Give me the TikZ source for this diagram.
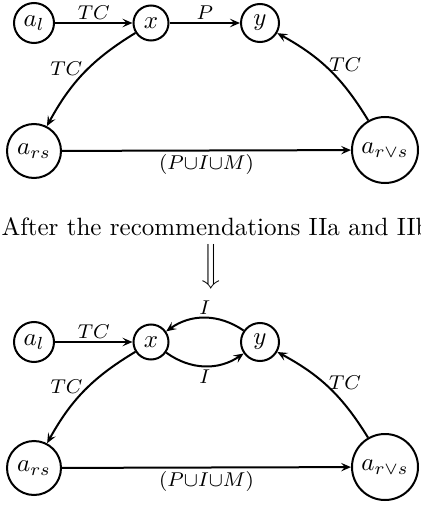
\documentclass[tikz,border=0pt]{standalone}
\usetikzlibrary{arrows.meta}
\begin{document}
\begin{tikzpicture}[x=0.4pt,y=-0.4pt,
  st/.style={circle,draw,thick,inner sep=0pt},
  ar/.style={thick,-{Stealth[length=4pt,width=3.4pt,inset=1.6pt]}},
  lb/.style={font=\footnotesize}]
\useasboundingbox (0,0) rectangle (420,506);
% top diagram
\node[st,minimum size=16pt] (al) at (34,23) {$a_l$};
\node[st,minimum size=14pt] (x) at (151,23) {$x$};
\node[st,minimum size=15.2pt] (y) at (260,23) {$y$};
\node[st,minimum size=21.6pt] (ars) at (34,151) {$a_{rs}$};
\node[st,minimum size=26.4pt] (arvs) at (385,150) {$a_{r\vee s}$};
\draw[ar] (al) -- node[lb,above,inner sep=1pt] {$TC$} (x);
\draw[ar] (x) -- node[lb,above,inner sep=1pt] {$P$} (y);
\draw[ar] (x) to[bend right=15] node[lb,left,pos=0.45,inner sep=2pt] {$TC$} (ars);
\draw[ar] (arvs) to[bend right=15] node[lb,right,pos=0.57,inner sep=2pt] {$TC$} (y);
\draw[ar] (ars) -- node[lb,below,inner sep=1pt] {$(P{\cup}I{\cup}M)$} (arvs);
% caption
\node[anchor=base west,inner sep=0pt] (cap) at (1,235) {After the recommendations IIa and IIb};
\node[inner sep=0pt] (arr) at (211,267) {$\Big\Downarrow$};
% bottom diagram
\node[st,minimum size=16pt] (al2) at (34,342) {$a_l$};
\node[st,minimum size=14pt] (x2) at (151,342) {$x$};
\node[st,minimum size=15.2pt] (y2) at (260,342) {$y$};
\node[st,minimum size=21.6pt] (ars2) at (34,468) {$a_{rs}$};
\node[st,minimum size=26.4pt] (arvs2) at (385,467) {$a_{r\vee s}$};
\draw[ar] (al2) -- node[lb,above,inner sep=1pt] {$TC$} (x2);
\draw[ar] (y2) to[bend right=35] node[lb,above,inner sep=1pt] {$I$} (x2);
\draw[ar] (x2) to[bend right=35] node[lb,below,inner sep=1pt] {$I$} (y2);
\draw[ar] (x2) to[bend right=15] node[lb,left,pos=0.45,inner sep=2pt] {$TC$} (ars2);
\draw[ar] (arvs2) to[bend right=15] node[lb,right,pos=0.57,inner sep=2pt] {$TC$} (y2);
\draw[ar] (ars2) -- node[lb,below,inner sep=1pt] {$(P{\cup}I{\cup}M)$} (arvs2);
\end{tikzpicture}
\end{document}
